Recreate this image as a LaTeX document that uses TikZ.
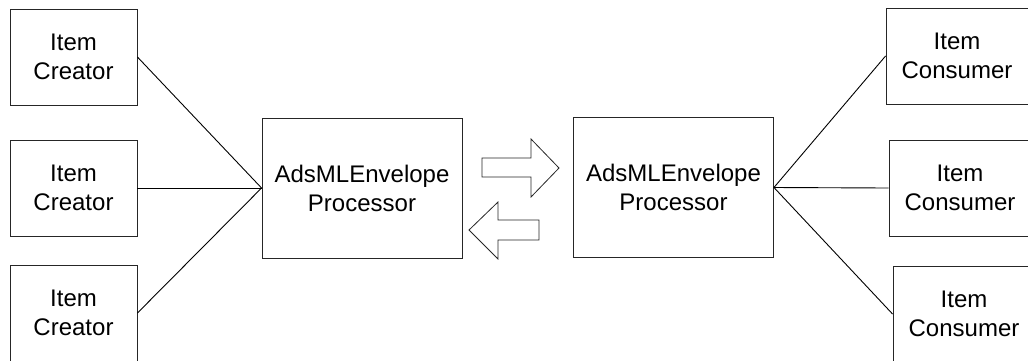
\documentclass[tikz,border=0pt]{standalone}
\usepackage{fontspec}
\setmainfont{Liberation Sans}
\begin{document}
\begin{tikzpicture}[x=1pt,y=-1pt,
  box/.style={draw=black!85,line width=0.9pt,fill=white,align=center,inner sep=0pt,
    font=\fontsize{24}{29}\selectfont},
  small/.style={box,minimum width=127pt,minimum height=96pt},
  cons/.style={box,minimum width=142pt,minimum height=96pt},
  proc/.style={box,minimum width=200pt,minimum height=140pt},
  link/.style={draw=black,line width=0.9pt},
  blockarrow/.style={draw=black!85,line width=0.8pt,fill=white,line join=miter}]
\useasboundingbox (0,0) rectangle (1028,360);
\clip (0,0) rectangle (1028,360);
\node[small] (c1) at (73.5,57) {Item\\Creator};
\node[small] (c2) at (73.5,188) {Item\\Creator};
\node[small] (c3) at (73.5,313) {Item\\Creator};
\node[proc] (p1) at (362,188) {AdsMLEnvelope\\Processor};
\node[proc] (p2) at (673.5,187.5) {AdsMLEnvelope\\Processor};
\node[cons] (k1) at (957,56) {Item\\Consumer};
\node[cons] (k2) at (960,188) {Item\\Consumer};
\node[cons] (k3) at (964,314) {Item\\Consumer};
\draw[link] (c1.east) -- (p1.west);
\draw[link] (c2.east) -- (p1.west);
\draw[link] (c3.east) -- (p1.west);
\draw[link] (p2.east) -- (k1.west);
\draw[link] (p2.east) -- (k2.west);
\draw[link] (p2.east) -- (k3.west);
\draw[blockarrow] (482,158) -- (531,158) -- (531,139) -- (559,168) -- (531,197) -- (531,177) -- (482,177) -- cycle;
\draw[blockarrow] (539,220) -- (498,220) -- (498,202) -- (469,230) -- (498,259) -- (498,240) -- (539,240) -- cycle;
\end{tikzpicture}
\end{document}
